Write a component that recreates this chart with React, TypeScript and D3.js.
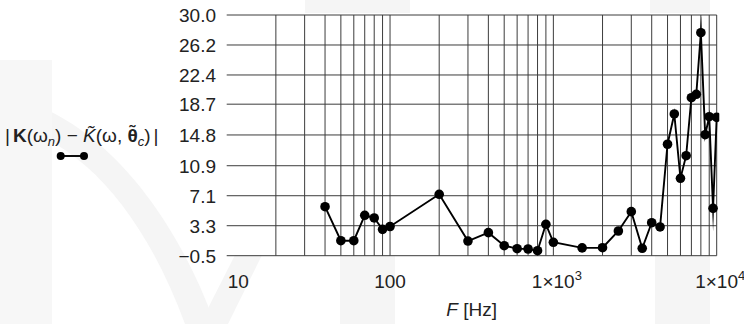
import React from "react";
import * as d3 from "d3";

const freqs = [40, 50, 60, 70, 80, 90, 100, 200, 300, 400, 500, 600, 700, 800, 900, 1000, 1500, 2000, 2500, 3000, 3500, 4000, 4500, 5000, 5500, 6000, 6500, 7000, 7500, 8000, 8500, 9000, 9500, 10000];
const values = [5.71, 1.4, 1.4, 4.62, 4.28, 2.84, 3.2, 7.28, 1.36, 2.42, 0.77, 0.39, 0.35, 0.13, 3.48, 1.2, 0.49, 0.51, 2.63, 5.08, 0.44, 3.68, 3.14, 13.62, 17.46, 9.31, 12.17, 19.52, 19.95, 27.76, 14.83, 17.11, 5.51, 17.03];
const yTicks = [-0.5, 3.3, 7.1, 10.9, 14.8, 18.7, 22.4, 26.2, 30.0];
const xTickLabels = [
  { v: 10, base: "10", sup: "" },
  { v: 100, base: "100", sup: "" },
  { v: 1000, base: "1×10", sup: "3" },
  { v: 10000, base: "1×10", sup: "4" },
];

const W = 744, H = 324;
const L = 226.7, R = 716.7, T = 15, B = 255.7;
const FONT = "'Liberation Sans', Arial, Helvetica, sans-serif";

export default function App() {
  const x = d3.scaleLog().domain([10, 10000]).range([L, R]);
  const y = d3.scaleLinear().domain([-0.5, 30]).range([B, T]);
  const vlines: number[] = [];
  for (let dec = 10; dec < 10000; dec *= 10) {
    for (let k = 2; k <= 10; k++) vlines.push(dec * k);
  }
  const pts = freqs.map((f, i) => [x(f), y(values[i])] as [number, number]);
  const line = d3.line()(pts) || "";
  return (
    <svg width={W} height={H} style={{ position: "absolute", left: 0, top: 0, background: "#fff" }}>
      <defs>
        <clipPath id="plotclip">
          <rect x={L - 10} y={0} width={R - L + 12.6} height={H} />
        </clipPath>
      </defs>
      {/* faint watermark */}
      <g fill="#f5f5f5" stroke="none">
        <path d="M0,95 C90,110 170,200 215,324 L185,324 C145,215 80,135 0,125 Z" />
        <rect x={0} y={60} width={52} height={264} fill="#f7f7f7" />
        <path d="M200,324 L235,255 L262,255 L228,324 Z" />
        <rect x={340} y={255} width={55} height={69} />
        <rect x={305} y={0} width={105} height={13} />
        <rect x={650} y={0} width={60} height={13} />
        <rect x={655} y={255} width={55} height={69} />
      </g>
      {/* grid */}
      <g stroke="#3c3c3c" strokeWidth={1}>
        {yTicks.map((t) => (
          <line key={"h" + t} x1={L} x2={R} y1={y(t)} y2={y(t)} />
        ))}
        {vlines.map((v) => (
          <line key={"v" + v} x1={x(v)} x2={x(v)} y1={T} y2={B} />
        ))}
      </g>
      {/* y tick labels */}
      <g fontFamily={FONT} fontSize={19} fill="#222" textAnchor="end">
        {yTicks.map((t) => (
          <text key={"yt" + t} x={216} y={y(t)} dy="0.36em">
            {t < 0 ? "\u2212" + Math.abs(t).toFixed(1) : t.toFixed(1)}
          </text>
        ))}
      </g>
      {/* x tick labels */}
      <g fontFamily={FONT} fontSize={19} fill="#222">
        {xTickLabels.map((d, i) =>
          i === 0 ? (
            <text key={"xt" + i} x={x(d.v) + 1} y={287.5} textAnchor="start">{d.base}</text>
          ) : (
            <text key={"xt" + i} x={x(d.v) + (d.sup ? 3.5 : 0)} y={287.5} textAnchor="middle">
              {d.base}
              {d.sup ? <tspan fontSize={13} dy={-8}>{d.sup}</tspan> : null}
            </text>
          )
        )}
      </g>
      {/* x axis title */}
      <text x={(L + R) / 2} y={316} textAnchor="middle" fontFamily={FONT} fontSize={19} fill="#222">
        <tspan fontStyle="italic">F</tspan> [Hz]
      </text>
      {/* series */}
      <g clipPath="url(#plotclip)">
        <path d={line} fill="none" stroke="#000" strokeWidth={1.9} strokeLinejoin="miter" strokeMiterlimit={30} />
        {pts.map((p, i) => (
          <circle key={"c" + i} cx={p[0]} cy={p[1]} r={4.8} fill="#000" />
        ))}
      </g>
      {/* legend label */}
      <text x={5} y={141.7} fontFamily={FONT} fontSize={19} fill="#222">
        <tspan>|</tspan>
        <tspan fontWeight="bold" dx={3}>K</tspan>
        <tspan>(ω</tspan>
        <tspan fontStyle="italic" fontSize={13} dy={4}>n</tspan>
        <tspan dy={-4}>) − </tspan>
        <tspan fontStyle="italic">K̃</tspan>
        <tspan>(ω, </tspan>
        <tspan fontWeight="bold">θ̃</tspan>
        <tspan fontStyle="italic" fontSize={13} dy={4}>c</tspan>
        <tspan dy={-4}>)</tspan>
        <tspan dx={3}>|</tspan>
      </text>
      <g>
        <line x1={60.7} x2={84} y1={156} y2={156} stroke="#000" strokeWidth={1.9} />
        <circle cx={60.7} cy={156} r={4} fill="#000" />
        <circle cx={84} cy={156} r={4} fill="#000" />
      </g>
    </svg>
  );
}
